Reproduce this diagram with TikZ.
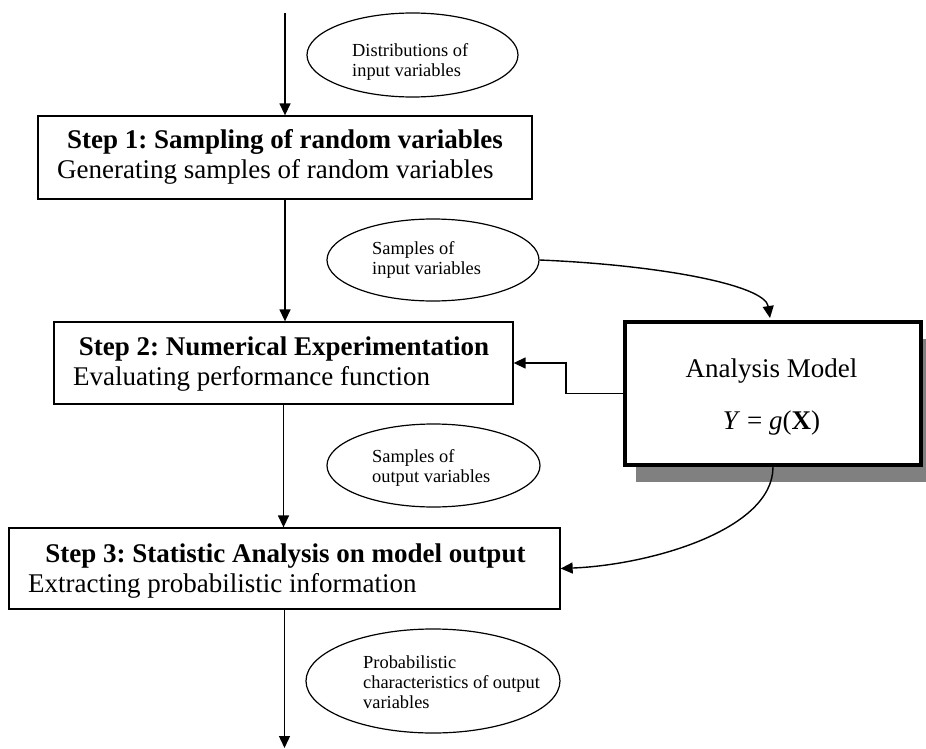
\documentclass[tikz,border=0pt]{standalone}
\usepackage{fontspec}
\setmainfont{Liberation Serif}
\usetikzlibrary{arrows.meta,shapes.geometric,shadows}
\begin{document}
\frenchspacing
\begin{tikzpicture}[x=1pt,y=-1pt,
  stepbox/.style={draw, line width=1.3pt, inner sep=0pt},
  oval/.style={draw, ellipse, line width=1.2pt, inner sep=0pt},
  big/.style={font=\fontsize{27pt}{30pt}\selectfont, inner sep=0pt},
  small/.style={font=\fontsize{18.4pt}{20pt}\selectfont, inner sep=0pt, anchor=base west},
  arr/.style={line width=1.4pt, -{Triangle[length=12pt,width=11pt]}},
  model/.style={draw, line width=4pt, fill=white, inner sep=0pt,
    drop shadow={shadow xshift=11pt, shadow yshift=-17pt, fill=gray, opacity=1}},
]
\useasboundingbox (0,0) rectangle (926,749);

% Step boxes
\node[stepbox, minimum width=494pt, minimum height=83pt] (s1) at (285,157.5) {};
\node[big, anchor=base] (s1a) at (285,148) {\bfseries Step 1: Sampling of random variables};
\node[big, anchor=base west] (s1b) at (57,178) {Generating samples of random variables};

\node[stepbox, minimum width=459pt, minimum height=82pt] (s2) at (283.5,363) {};
\node[big, anchor=base] (s2a) at (284,355) {\bfseries Step 2: Numerical Experimentation};
\node[big, anchor=base west] (s2b) at (73,385) {Evaluating performance function};

\node[stepbox, minimum width=551pt, minimum height=81pt] (s3) at (284.5,568.5) {};
\node[big, anchor=base] (s3a) at (285.5,562) {\bfseries Step 3: Statistic Analysis on model output};
\node[big, anchor=base west] (s3b) at (28,592) {Extracting probabilistic information};

% Ellipses
\node[oval, minimum width=211pt, minimum height=84pt] (e1) at (412.5,55) {};
\node[small] (t1) at (352,57) {\begin{tabular}[t]{@{}l@{}}Distributions of\\input variables\end{tabular}};

\node[oval, minimum width=212pt, minimum height=82pt] (e2) at (433,260) {};
\node[small] (t2) at (372,254) {\begin{tabular}[t]{@{}l@{}}Samples of\\input variables\end{tabular}};

\node[oval, minimum width=213pt, minimum height=83pt] (e3) at (433.5,465.5) {};
\node[small] (t3) at (372,462.5) {\begin{tabular}[t]{@{}l@{}}Samples of\\output variables\end{tabular}};

\node[oval, minimum width=254pt, minimum height=104pt] (e4) at (433,681) {};
\node[small] (t4) at (363,668) {\begin{tabular}[t]{@{}l@{}}Probabilistic\\characteristics of output\\variables\end{tabular}};

% Analysis model
\node[model, minimum width=296pt, minimum height=143pt] (am) at (773,393.5) {};
\node[big, anchor=base] (am1) at (771.5,377) {Analysis Model};
\node[big, anchor=base] (am2) at (771.5,429) {\textit{Y} = \textit{g}(\textbf{X})};

% Connectors
\coordinate (top) at (285,13);
\coordinate (bot) at (284.5,748);
\draw[arr] (top) -- (s1.north);
\draw[arr] (s1.south) -- (s1.south |- s2.north);
\draw[arr] (s2.south) -- (s2.south |- s3.north);
\draw[arr] (s3.south) -- (bot);
\draw[arr] (e2.east) .. controls (660,265) and (765,285) .. ([xshift=-3pt,yshift=2pt]am.north);
\draw[arr] (am.south) .. controls (773,530) and (650,565) .. (s3.east);
\draw[arr] (am.west) -- ++(-57,0) |- (s2.east);
\end{tikzpicture}
\end{document}
